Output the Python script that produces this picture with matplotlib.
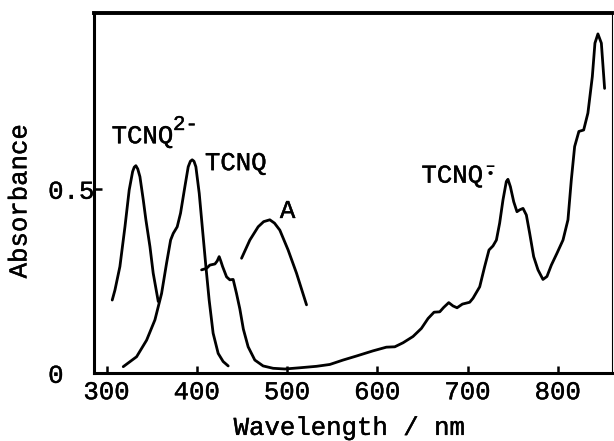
import matplotlib
matplotlib.use("Agg")
import matplotlib.pyplot as plt
import matplotlib.patheffects as pe

# ---- data ----
dianion_wl = [306.2, 309.2, 314.7, 320.3, 325.0, 328.8, 330.6, 332.4, 334.5, 336.9,
              340.6, 343.5, 348.0, 351.6, 357.2]
dianion_abs = [0.199, 0.226, 0.290, 0.398, 0.498, 0.548, 0.560, 0.564, 0.555, 0.534,
               0.471, 0.417, 0.344, 0.272, 0.195]

neutral_wl = [318.4, 333.2, 344.3, 353.5, 360.9, 366.4, 370.9, 373.8, 378.2, 381.9,
              386.7, 390.4, 392.8, 394.8, 396.8, 398.9, 402.6, 406.3, 410.0, 413.6,
              418.0, 423.6, 429.1, 434.7]
neutral_abs = [0.018, 0.045, 0.090, 0.145, 0.217, 0.299, 0.362, 0.380, 0.398, 0.435,
               0.507, 0.561, 0.576, 0.580, 0.576, 0.561, 0.489, 0.389, 0.290, 0.199,
               0.109, 0.054, 0.032, 0.020]

radical_wl = [405.2, 410.7, 414.4, 420.0, 422.5, 424.7, 426.5, 428.5, 432.9, 436.5,
              440.2, 443.9, 447.6, 451.5, 456.8, 464.2, 473.4, 484.5, 497.5, 514.0,
              532.6, 547.3, 562.0, 576.9, 595.2, 610.0, 619.3, 628.5, 639.5, 648.8,
              656.2, 662.8, 669.1, 673.5, 679.1, 683.8, 688.3, 694.2, 702.3, 706.0,
              713.4, 718.9, 723.7, 728.1, 731.9, 735.5, 739.2, 742.9, 744.7, 747.4,
              751.1, 754.7, 757.7, 761.4, 765.1, 768.8, 773.2, 778.0, 783.5, 787.9,
              792.8, 799.0, 805.7, 811.2, 814.9, 818.6, 823.3, 828.6, 833.3, 838.2,
              841.1, 844.4, 848.2, 851.8]
radical_abs = [0.281, 0.285, 0.294, 0.297, 0.305, 0.317, 0.305, 0.290, 0.262, 0.254,
               0.255, 0.217, 0.175, 0.120, 0.072, 0.036, 0.020, 0.0136, 0.0117, 0.015,
               0.019, 0.024, 0.036, 0.047, 0.061, 0.071, 0.072, 0.083, 0.100, 0.122,
               0.149, 0.166, 0.167, 0.179, 0.192, 0.183, 0.178, 0.188, 0.193, 0.204,
               0.235, 0.290, 0.335, 0.346, 0.362, 0.408, 0.471, 0.521, 0.527, 0.507,
               0.466, 0.439, 0.444, 0.448, 0.430, 0.380, 0.317, 0.281, 0.255, 0.263,
               0.294, 0.326, 0.362, 0.417, 0.525, 0.616, 0.657, 0.661, 0.707, 0.806,
               0.897, 0.922, 0.897, 0.774]

a_wl = [449.5, 458.7, 467.9, 474.0, 480.8, 486.0, 491.9, 501.1, 510.4, 521.5]
a_abs = [0.3125, 0.362, 0.398, 0.412, 0.417, 0.408, 0.389, 0.335, 0.272, 0.186]

x_ticks = [300, 400, 500, 600, 700, 800]
x_ticklabels = ["300", "400", "500", "600", "700", "800"]
y_ticks = [0, 0.5]
y_ticklabels = ["0", "0.5"]

FONT = "Liberation Mono"
plt.rcParams["font.family"] = [FONT, "DejaVu Sans Mono"]
FS = 18.5
heavy = [pe.withStroke(linewidth=0.3, foreground="black")]

fig = plt.figure(figsize=(6.14, 4.41), dpi=100)
ax = fig.add_axes([94 / 614, (441 - 373.3) / 441, (612 - 94) / 614, (373.3 - 13.3) / 441])

lw = 2.0
for wl, ab in [(dianion_wl, dianion_abs), (neutral_wl, neutral_abs),
               (radical_wl, radical_abs), (a_wl, a_abs)]:
    ax.plot(wl, ab, color="black", lw=lw, solid_joinstyle="round", solid_capstyle="round")

ax.set_xlim(286, 860)
ax.set_ylim(0, 0.978)

ax.set_xticks(x_ticks)
ax.set_xticklabels(x_ticklabels)
ax.set_yticks(y_ticks)
ax.set_yticklabels(y_ticklabels)
ax.tick_params(axis="x", direction="in", length=5, width=1.8, pad=5, labelsize=FS)
ax.tick_params(axis="y", direction="in", length=6, width=1.8, pad=33, labelsize=FS)
for lab in ax.get_yticklabels():
    lab.set_horizontalalignment("left")
for lab in ax.get_yticklabels() + ax.get_xticklabels():
    lab.set_path_effects(heavy)

for side in ["left", "bottom"]:
    ax.spines[side].set_linewidth(2.2)
ax.spines["top"].set_linewidth(2.8)
ax.spines["right"].set_linewidth(0.8)

# axis titles
ax.text(0.494, -0.171, "Wavelength / nm", transform=ax.transAxes, fontsize=FS,
        ha="center", va="baseline", path_effects=heavy)
ax.text(-0.144, 0.479, "Absorbance", transform=ax.transAxes, fontsize=FS,
        ha="center", va="center", rotation=90, path_effects=heavy)

# annotations
ax.text(305.5, 0.625, "TCNQ", fontsize=FS, ha="left", va="baseline", path_effects=heavy)
ax.text(373.5, 0.661, "2-", fontsize=15, ha="left", va="baseline", path_effects=heavy)
ax.text(408.9, 0.552, "TCNQ", fontsize=FS, ha="left", va="baseline", path_effects=heavy)
ax.text(492.0, 0.422, "A", fontsize=FS, ha="left", va="baseline", path_effects=heavy)
ax.text(648.8, 0.518, "TCNQ", fontsize=FS, ha="left", va="baseline", path_effects=heavy)
# radical-anion mark: bar with a dot beneath, as one superscript text
ax.text(724.5, 0.530, "\u2212\n\u2022", fontsize=11, fontweight="bold", linespacing=0.38,
        ha="center", va="baseline", multialignment="center")

fig.savefig("out.png", dpi=100)
